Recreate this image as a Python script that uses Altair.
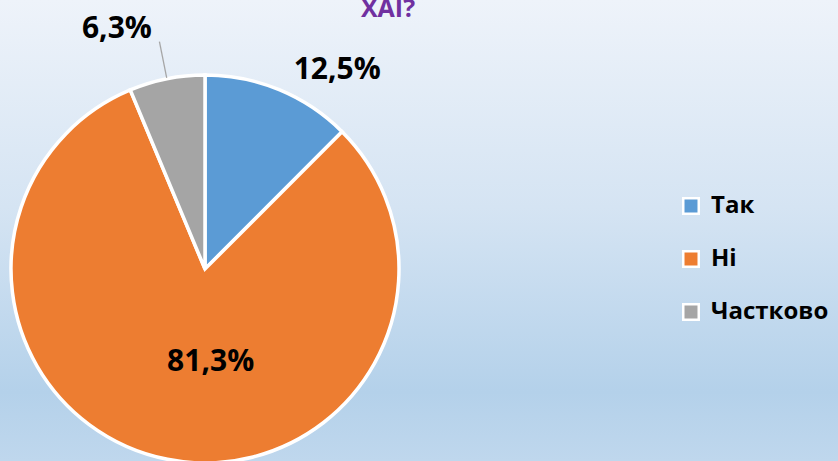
import altair as alt
import pandas as pd

categories = ["Так", "Ні", "Частково"]
values = [12.5, 81.3, 6.3]
colors = ["#5B9BD5", "#ED7D31", "#A5A5A5"]
title_text = "ХАІ?"

df = pd.DataFrame({"cat": categories, "value": values, "idx": list(range(len(categories)))})

W, H = 838, 461
CX, CY, R = 205, 269, 194
FONT = "Open Sans"

bg = alt.Gradient(
    gradient="linear",
    stops=[
        alt.GradientStop(color="#EEF3FA", offset=0),
        alt.GradientStop(color="#D5E4F3", offset=0.45),
        alt.GradientStop(color="#B4D1EA", offset=0.85),
        alt.GradientStop(color="#BFD7ED", offset=1),
    ],
    x1=0, x2=0, y1=0, y2=1,
)

base = alt.Chart(df)

background = base.transform_filter("datum.idx == 0").mark_rect(fill=bg).encode(
    x=alt.value(0), x2=alt.value("width"), y=alt.value(0), y2=alt.value("height")
)

pie = base.mark_arc(x=CX, y=CY, radius=R, stroke="white", strokeWidth=3.5).encode(
    theta=alt.Theta("value:Q", stack=True),
    order=alt.Order("idx:Q"),
    color=alt.Color(
        "cat:N",
        sort=categories,
        scale=alt.Scale(domain=categories, range=colors),
        legend=alt.Legend(
            title=None,
            orient="none",
            legendX=679,
            legendY=194,
            symbolType="square",
            symbolSize=240,
            symbolStrokeColor="white",
            symbolStrokeWidth=2.5,
            symbolOpacity=1,
            labelFont=FONT,
            labelFontSize=24,
            labelFontWeight="bold",
            labelColor="black",
            labelOffset=8,
            rowPadding=27,
            padding=0,
        ),
    ),
)

stacked = (
    base.transform_joinaggregate(total="sum(value)")
    .transform_window(cum="sum(value)", sort=[alt.SortField("idx")], frame=[None, 0])
    .transform_calculate(
        mid="(datum.cum - datum.value / 2) / datum.total * 2 * PI",
        label="replace(format(datum.value, '.1f'), '.', ',') + '%'",
    )
)

def label_layer(cat, radius, dx, dy):
    return (
        stacked.transform_filter(alt.datum.cat == cat)
        .transform_calculate(
            lx=f"{CX} + {radius} * sin(datum.mid) + {dx}",
            ly=f"{CY} - {radius} * cos(datum.mid) + {dy}",
        )
        .mark_text(font=FONT, fontSize=30, fontWeight="bold", color="black", baseline="middle", align="center")
        .encode(x=alt.X("lx:Q", scale=None), y=alt.Y("ly:Q", scale=None), text="label:N")
    )

labels = (
    label_layer("Так", 215, 50, 0)
    + label_layer("Ні", 95, 24, 0)
    + label_layer("Частково", 245, -40, 0)
)

leader = (
    stacked.transform_filter(alt.datum.cat == "Частково")
    .transform_calculate(
        x1=f"{CX} + {R + 1} * sin(datum.mid)",
        y1=f"{CY} - {R + 1} * cos(datum.mid)",
        x2=f"{CX} + {R + 38} * sin(datum.mid)",
        y2=f"{CY} - {R + 38} * cos(datum.mid)",
    )
    .mark_rule(color="#A6A6A6", strokeWidth=1.3)
    .encode(
        x=alt.X("x1:Q", scale=None),
        y=alt.Y("y1:Q", scale=None),
        x2="x2:Q",
        y2="y2:Q",
    )
)

title = base.transform_filter("datum.idx == 0").mark_text(
    text=title_text, font=FONT, fontSize=25, fontWeight="bold", color="#7030A0",
    baseline="alphabetic", align="center",
).encode(x=alt.value(388), y=alt.value(17))

chart = (
    alt.layer(background, pie, leader, labels, title)
    .properties(width=W, height=H, autosize=alt.AutoSizeParams(type="none"), padding=0)
    .configure_view(stroke=None)
)

chart.save("out.html", embed_options={"renderer": "svg", "actions": False})
